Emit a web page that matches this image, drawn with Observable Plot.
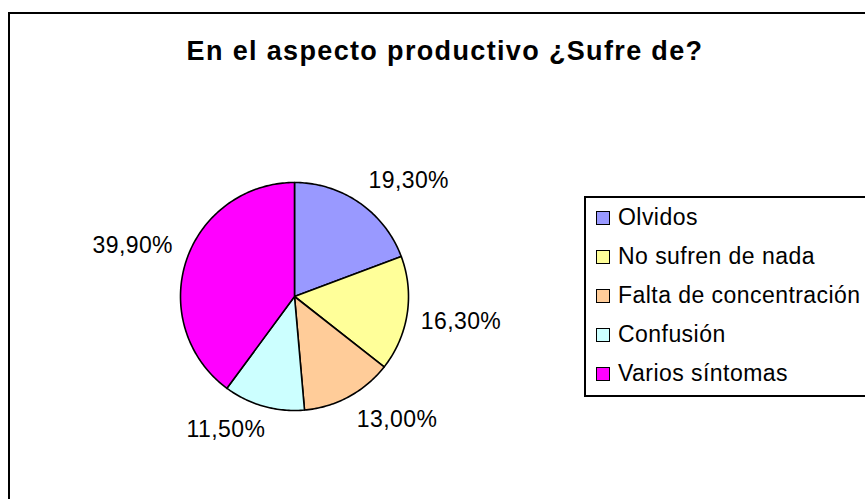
<!DOCTYPE html>
<html>
<head>
<meta charset="utf-8">
<script src="https://cdn.jsdelivr.net/npm/d3@7"></script>
<script src="https://cdn.jsdelivr.net/npm/@observablehq/plot@0.6"></script>
<style>
  html, body { margin: 0; padding: 0; background: #fff; }
  body { width: 865px; height: 499px; overflow: hidden; }
  #wrap { position: relative; width: 865px; height: 499px; overflow: hidden;
          font-family: "Liberation Sans", Arial, sans-serif; color: #000; }
  #frame { position: absolute; left: 8px; top: 12px; width: 900px; height: 600px;
           border-left: 2px solid #000; border-top: 2px solid #000; }
  #title { position: absolute; left: 0; top: 38px; width: 890px; text-align: center;
           font-size: 27px; line-height: 27px; font-weight: bold; letter-spacing: 1.35px; white-space: nowrap; }
  #chart { position: absolute; left: 0; top: 0; }
  #chart svg text { letter-spacing: 0.4px; }
  #legend { position: absolute; left: 584px; top: 196px; width: 400px; height: 197px;
            border: 2px solid #000; background: #fff; }
  .item { display: flex; align-items: center; height: 39px; }
  .sw { width: 12px; height: 12px; border: 1.5px solid #000; margin-left: 10px; margin-right: 8px; }
  .lab { font-size: 23px; letter-spacing: 0.45px; white-space: nowrap; }
</style>
</head>
<body>
<div id="wrap">
  <div id="frame"></div>
  <div id="chart"></div>
  <div id="title"></div>
  <div id="legend"></div>
</div>
<script>
const titleText = "En el aspecto productivo ¿Sufre de?";
const categories = ["Olvidos", "No sufren de nada", "Falta de concentración", "Confusión", "Varios síntomas"];
const values = [19.3, 16.3, 13.0, 11.5, 39.9];
const colors = ["#9999FF", "#FFFF99", "#FFCC99", "#CCFFFF", "#FF00FF"];

// layout (pixels)
const cx = 294, cy = 296, r = 114;

const total = d3.sum(values);
let cum = 0;
const slices = values.map((v, i) => {
  const a0 = cum / total * 2 * Math.PI;
  cum += v;
  const a1 = cum / total * 2 * Math.PI;
  return {cat: categories[i], value: v, a0, a1};
});

// wedge outlines in data units (unit circle), angle clockwise from 12 o'clock
const pts = [];
for (const s of slices) {
  pts.push({cat: s.cat, x: 0, y: 0});
  const n = Math.max(2, Math.ceil((s.a1 - s.a0) / (Math.PI / 180)));
  for (let k = 0; k <= n; k++) {
    const a = s.a0 + (s.a1 - s.a0) * k / n;
    pts.push({cat: s.cat, x: Math.sin(a), y: Math.cos(a)});
  }
  pts.push({cat: s.cat, x: 0, y: 0});
}

// labels outside the pie: label box touches a point just outside the rim
const hw = 43, hh = 13, gap = 11;
const clamp = t => Math.max(-1, Math.min(1, t * 3));
const labels = slices.map(s => {
  const a = (s.a0 + s.a1) / 2;
  const sn = Math.sin(a), cs = Math.cos(a);
  const px = (r + gap) * sn + hw * clamp(sn);
  const py = (r + gap) * cs + hh * clamp(cs);
  return {x: px / r, y: py / r, text: s.value.toFixed(2).replace(".", ",") + "%"};
});

const plot = Plot.plot({
  width: 865,
  height: 499,
  margin: 0,
  style: {fontFamily: "Liberation Sans, Arial, sans-serif", background: "transparent", overflow: "visible"},
  x: {domain: [-1, 1], range: [cx - r, cx + r], axis: null},
  y: {domain: [-1, 1], range: [cy + r, cy - r], axis: null},
  color: {domain: categories, range: colors},
  marks: [
    Plot.line(pts, {x: "x", y: "y", z: "cat", fill: "cat", stroke: "#000", strokeWidth: 1.6, strokeLinejoin: "round", curve: "linear"}),
    Plot.text(labels, {x: "x", y: "y", text: "text", fontSize: 23, fill: "#000", textAnchor: "middle", lineAnchor: "middle"})
  ]
});
document.getElementById("chart").appendChild(plot);
document.getElementById("title").textContent = titleText;

const legend = document.getElementById("legend");
categories.forEach((c, i) => {
  const item = document.createElement("div");
  item.className = "item";
  const sw = document.createElement("div");
  sw.className = "sw";
  sw.style.background = colors[i];
  const lab = document.createElement("span");
  lab.className = "lab";
  lab.textContent = c;
  item.appendChild(sw);
  item.appendChild(lab);
  legend.appendChild(item);
});
</script>
</body>
</html>
